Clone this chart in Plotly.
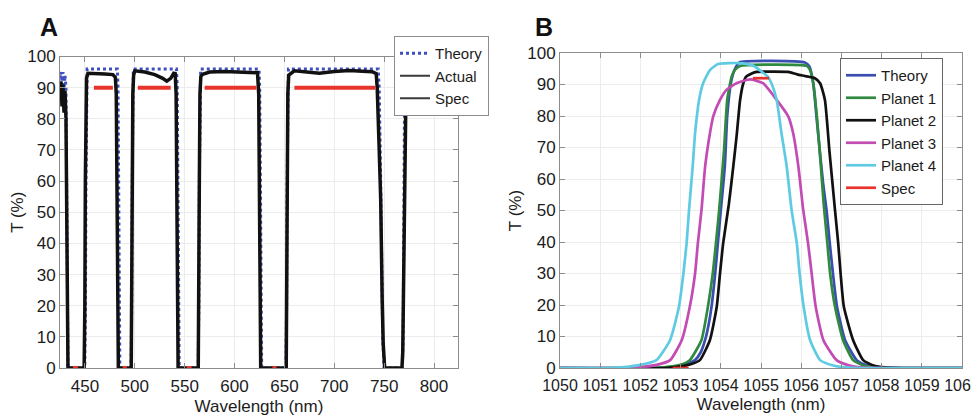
import plotly.graph_objects as go

# ---------------- Panel A data ----------------
theory_a_wl = [425, 426, 427, 428, 429, 430, 431, 431.6, 432.1, 432.6, 433,
               449.8, 450.5, 451.0, 451.5, 452.2, 482.5, 483.2, 483.8, 484.3, 485,
               496.2, 496.9, 497.4, 497.9, 498.5, 541.8, 542.5, 543.2, 543.8, 544.5,
               563.5, 564.2, 564.7, 565.2, 566, 624.5, 625.2, 625.9, 626.5, 627.2,
               651.5, 652.2, 652.7, 653.2, 654, 744, 745, 746.5, 747.5, 748.5, 750,
               768.2, 769, 769.5, 770, 770.6, 824]
theory_a_T = [93, 95, 92, 95, 89, 94, 90, 60, 20, 3, 0,
              0, 20, 60, 90, 96, 96, 90, 60, 20, 0,
              0, 20, 60, 90, 96, 96, 90, 60, 20, 0,
              0, 20, 60, 90, 96, 96, 90, 60, 20, 0,
              0, 20, 60, 90, 96, 96, 90, 60, 30, 10, 0,
              0, 10, 40, 80, 96, 96]

actual_a_wl = [425, 426, 427, 428, 429, 430, 431, 431.7, 432.3, 433,
               449.2, 449.9, 450.4, 450.9, 451.6, 453, 460, 470, 478, 480.5, 481.4, 482, 482.7, 483.5,
               496.4, 497.0, 497.5, 498.0, 498.8, 500, 510, 520, 525, 528, 532, 536, 539, 540.5, 541.4, 542.1, 542.7, 543.4,
               563.6, 564.2, 564.7, 565.3, 566.2, 568, 575, 590, 605, 615, 623, 624.2, 624.9, 625.5, 626.2,
               651.8, 652.4, 652.9, 653.4, 654.3, 660, 672, 685, 700, 715, 728, 738, 742, 743, 745, 746.5, 748, 749, 750.5,
               767.8, 768.6, 769.5, 770.4, 771, 772, 774, 824]
actual_a_T = [88, 92, 84, 91, 82, 89, 80, 50, 10, 0,
              0, 20, 60, 88, 93, 94.6, 94.6, 94.4, 94.2, 93.3, 88, 60, 20, 0,
              0, 20, 60, 88, 94, 95.4, 95.0, 94.2, 93.6, 93.0, 92.1, 93.0, 94.6, 94.5, 88, 60, 20, 0,
              0, 20, 60, 88, 93.6, 94.3, 95.0, 95.2, 95.0, 95.1, 94.8, 88, 60, 20, 0,
              0, 20, 60, 88, 94, 95.4, 95.0, 94.6, 95.2, 95.5, 95.3, 95.1, 94.5, 90, 70, 54, 22, 8, 0,
              0, 5, 30, 60, 85, 93, 95, 95]

spec_a_start = [459, 503, 570, 660, 438, 488, 552, 638]
spec_a_end = [478, 536, 622, 741, 443, 492, 557, 642]
spec_a_level = [90, 90, 90, 90, 0, 0, 0, 0]

# ---------------- Panel B data ----------------
theory_b_wl = [1050, 1052.0, 1052.5, 1052.9, 1053.2, 1053.36, 1053.5, 1053.61, 1053.7, 1053.77, 1053.86,
               1053.93, 1054.0, 1054.1, 1054.16, 1054.25, 1054.34, 1054.46, 1056.09, 1056.2, 1056.3,
               1056.38, 1056.47, 1056.55, 1056.63, 1056.71, 1056.79, 1056.89, 1057.09, 1057.38, 1057.6,
               1057.9, 1058.3, 1060]
theory_b_T = [0, 0, 0.1, 0.5, 1.5, 2.5, 5, 8.9, 14, 19.5, 30,
              40, 50, 64, 80, 90.4, 94.6, 97, 97, 95.8, 90.4,
              79.8, 68, 58, 50.2, 39.7, 30, 19.5, 8.9, 2.5, 1,
              0.3, 0, 0]

planet1_wl = [1050, 1052.3, 1052.8, 1053.0, 1053.23, 1053.52, 1053.68, 1053.80, 1053.88, 1053.96,
              1054.08, 1054.16, 1054.27, 1054.35, 1054.48, 1056.14, 1056.22, 1056.30, 1056.39,
              1056.49, 1056.56, 1056.65, 1056.72, 1056.84, 1057.04, 1057.29, 1057.55, 1057.9, 1058.3, 1060]
planet1_T = [0, 0, 0.5, 1, 2.5, 8.9, 19.5, 30, 39.7, 50.2,
             69.2, 85.1, 92.5, 94.6, 95.9, 95.9, 94.6, 90.4, 79.8,
             63.9, 52, 39.7, 30, 19.5, 8.9, 2.5, 0.8, 0.2, 0, 0]

planet2_wl = [1050, 1052.6, 1053.0, 1053.25, 1053.48, 1053.73, 1053.90, 1053.98, 1054.06, 1054.2,
              1054.31, 1054.40, 1054.48, 1054.56, 1054.63, 1054.77, 1054.89, 1055.3, 1055.68, 1055.9,
              1056.09, 1056.34, 1056.47, 1056.59, 1056.70, 1056.84, 1056.92, 1056.98, 1057.06, 1057.29,
              1057.54, 1057.8, 1058.1, 1058.5, 1060]
planet2_T = [0, 0, 0.5, 1.2, 2.5, 8.9, 19.5, 30, 39.7, 52,
             63.9, 74.5, 85.1, 90.4, 92.5, 93.5, 94.0, 94.1, 94.0, 93.2,
             92.7, 92.0, 90.4, 85.1, 69.2, 50.2, 39.7, 30, 19.5, 8.9,
             2.5, 0.8, 0.2, 0, 0]

planet3_wl = [1050, 1051.6, 1052.0, 1052.4, 1052.74, 1053.03, 1053.23, 1053.36, 1053.43, 1053.52,
              1053.61, 1053.73, 1053.81, 1053.98, 1054.14, 1054.39, 1054.73, 1055.05, 1055.39, 1055.68,
              1055.80, 1055.93, 1056.05, 1056.17, 1056.26, 1056.36, 1056.55, 1056.88, 1057.2, 1057.5,
              1058, 1060]
planet3_T = [0, 0, 0.3, 1, 2.5, 8.9, 19.5, 30, 39.7, 50.2,
             63.9, 74.5, 79.8, 85.1, 88.3, 90.4, 91.6, 90.4, 85.1, 79.8,
             74.5, 63.9, 50.2, 39.7, 30, 19.5, 8.9, 2.5, 0.8, 0.2,
             0, 0]

planet4_wl = [1050, 1051.2, 1051.6, 1052.0, 1052.40, 1052.74, 1052.96, 1053.07, 1053.15, 1053.21,
              1053.30, 1053.36, 1053.46, 1053.56, 1053.73, 1053.93, 1054.2, 1054.55, 1054.8, 1055.17,
              1055.26, 1055.39, 1055.51, 1055.64, 1055.76, 1055.89, 1055.96, 1056.06, 1056.22, 1056.47,
              1056.8, 1057.1, 1057.5, 1060]
planet4_T = [0, 0, 0.3, 1, 2.5, 8.9, 19.5, 30, 39.7, 50.2,
             63.9, 74.5, 85.1, 90.4, 94.6, 96.5, 96.8, 96.7, 96.0, 92.5,
             90.4, 85.1, 74.5, 63.9, 50.2, 39.7, 30, 19.5, 8.9, 2.5,
             0.8, 0.2, 0, 0]

spec_b_start = [1054.8, 1052.8]
spec_b_end = [1055.2, 1053.2]
spec_b_level = [92, 0]

x_ticks_a = [450, 500, 550, 600, 650, 700, 750, 800]
x_ticks_b = list(range(1050, 1061))
y_ticks = list(range(0, 101, 10))

# ---------------- colours ----------------
C_THEORY_A = "#3f4fc0"
C_BLUE = "#3a4db0"
C_GREEN = "#2f8a3f"
C_BLACK = "#111111"
C_MAGENTA = "#c24bb4"
C_CYAN = "#5ecbe2"
C_RED = "#e8342c"


def segments(starts, ends, levels):
    xs, ys = [], []
    for s, e, l in zip(starts, ends, levels):
        xs += [s, e, None]
        ys += [l, l, None]
    return xs, ys


fig = go.Figure()

# Panel A
fig.add_trace(go.Scatter(x=theory_a_wl, y=theory_a_T, mode="lines", name="Theory",
                         line=dict(color=C_THEORY_A, width=3, dash="dot"),
                         xaxis="x", yaxis="y", legend="legend"))
fig.add_trace(go.Scatter(x=actual_a_wl, y=actual_a_T, mode="lines", name="Actual",
                         line=dict(color=C_BLACK, width=3.5), showlegend=False,
                         xaxis="x", yaxis="y"))
sx, sy = segments(spec_a_start, spec_a_end, spec_a_level)
fig.add_trace(go.Scatter(x=sx, y=sy, mode="lines", name="Spec",
                         line=dict(color=C_RED, width=4), showlegend=False,
                         xaxis="x", yaxis="y"))
# legend-only entries (the reference legend draws these in thin dark grey)
fig.add_trace(go.Scatter(x=[None], y=[None], mode="lines", name="Actual",
                         line=dict(color="#3a3a3a", width=2),
                         xaxis="x", yaxis="y", legend="legend"))
fig.add_trace(go.Scatter(x=[None], y=[None], mode="lines", name="Spec",
                         line=dict(color="#3a3a3a", width=2),
                         xaxis="x", yaxis="y", legend="legend"))

# Panel B
for wl, T, name, col in [(theory_b_wl, theory_b_T, "Theory", C_BLUE),
                         (planet1_wl, planet1_T, "Planet 1", C_GREEN),
                         (planet2_wl, planet2_T, "Planet 2", C_BLACK),
                         (planet3_wl, planet3_T, "Planet 3", C_MAGENTA),
                         (planet4_wl, planet4_T, "Planet 4", C_CYAN)]:
    fig.add_trace(go.Scatter(x=wl, y=T, mode="lines", name=name,
                             line=dict(color=col, width=2.7, shape="spline", smoothing=0.5),
                             xaxis="x2", yaxis="y2", legend="legend2"))
bx, by = segments(spec_b_start, spec_b_end, spec_b_level)
fig.add_trace(go.Scatter(x=bx, y=by, mode="lines", name="Spec",
                         line=dict(color=C_RED, width=2.7),
                         xaxis="x2", yaxis="y2", legend="legend2"))

# page is rendered with an 8px body margin: work in page pixels and convert
OFF = 8
W, H = 979 - OFF, 416 - OFF


def px(xp):
    return (xp - OFF) / W


def py(yp):
    return (H - (yp - OFF)) / H


FONT = "Arial, 'Liberation Sans', Helvetica, sans-serif"
AX_COL = "#8c8c8c"
GRID = "#ececec"
TXT = "#1c1c1c"


def axis(size, standoff=None):
    d = dict(showline=True, linecolor=AX_COL, linewidth=1, mirror="ticks",
             ticks="inside", ticklen=5, tickcolor=AX_COL, showgrid=True,
             gridcolor=GRID, gridwidth=1, zeroline=False, automargin=False,
             ticklabeloverflow="allow",
             tickfont=dict(family=FONT, size=size, color=TXT))
    if standoff is not None:
        d["ticklabelstandoff"] = standoff
    return d


fig.update_layout(
    width=W, height=H,
    margin=dict(l=0, r=0, t=0, b=0, autoexpand=False),
    paper_bgcolor="white", plot_bgcolor="white",
    font=dict(family=FONT, color=TXT),
    xaxis=dict(domain=[px(60), px(458)], range=[425, 824], tickvals=x_ticks_a,
               title=dict(text="Wavelength (nm)", font=dict(size=17), standoff=4),
               anchor="y", **axis(17, 3)),
    yaxis=dict(domain=[py(368), py(56.5)], range=[0, 100], tickvals=y_ticks,
               title=dict(text="T (%)", font=dict(size=17), standoff=1),
               anchor="x", **axis(17)),
    xaxis2=dict(domain=[px(560), px(962)], range=[1050, 1060], tickvals=x_ticks_b,
                title=dict(text="Wavelength (nm)", font=dict(size=17), standoff=4),
                anchor="y2", **axis(16, 3)),
    yaxis2=dict(domain=[py(368), py(53)], range=[0, 100], tickvals=y_ticks,
                title=dict(text="T (%)", font=dict(size=17), standoff=1),
                anchor="x2", **axis(17)),
    legend=dict(x=px(394), y=py(36), xanchor="left", yanchor="top",
                bgcolor="white", bordercolor="#8c8c8c", borderwidth=1,
                font=dict(family=FONT, size=15, color=TXT),
                tracegroupgap=0, itemwidth=30),
    legend2=dict(x=px(840), y=py(58), xanchor="left", yanchor="top",
                 bgcolor="white", bordercolor="#666666", borderwidth=1,
                 font=dict(family=FONT, size=15, color=TXT),
                 tracegroupgap=0, itemwidth=30),
    showlegend=True,
    annotations=[
        dict(text="<b>A</b>", x=px(38), y=py(11), xref="paper", yref="paper",
             xanchor="left", yanchor="top", showarrow=False,
             font=dict(family=FONT, size=25, color="#111111")),
        dict(text="<b>B</b>", x=px(533), y=py(11), xref="paper", yref="paper",
             xanchor="left", yanchor="top", showarrow=False,
             font=dict(family=FONT, size=25, color="#111111")),
    ],
)

fig.write_html("out.html")
